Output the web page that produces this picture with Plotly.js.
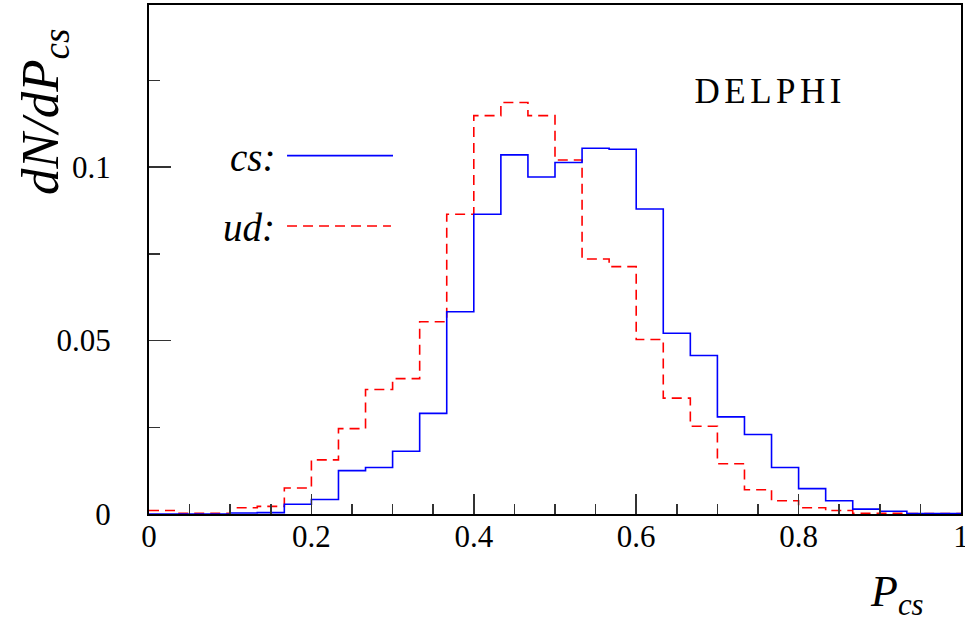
<!DOCTYPE html>
<html>
<head>
<meta charset="utf-8">
<script src="https://cdn.plot.ly/plotly-3.0.1.min.js"></script>
<style>
  html, body { margin: 0; padding: 0; background: #ffffff; }
  #chart { width: 965px; height: 631px; }
  g.annotation[data-index="0"] text { letter-spacing: 4.5px; }
</style>
</head>
<body>
<div id="chart"></div>
<script>
// Histogram: 30 bins between 0 and 1
const binStart = 0;
const binEnd = 1;
const nBins = 30;

// cs events (blue, solid)
const csValues = [0, 0, 0, 0.0003, 0.0004, 0.0028, 0.0042, 0.0125, 0.0134, 0.0181,
                  0.0290, 0.0583, 0.0864, 0.1035, 0.0971, 0.1013, 0.1054, 0.1051, 0.0879, 0.0521,
                  0.0457, 0.0280, 0.0229, 0.0134, 0.0073, 0.0038, 0.0014, 0.0008, 0.0001, 0.0001];

// ud events (red, dashed)
const udValues = [0.0010, 0.0002, 0.0002, 0.0018, 0.0022, 0.0075, 0.0156, 0.0246, 0.0359, 0.0390,
                  0.0554, 0.0864, 0.1148, 0.1186, 0.1148, 0.1020, 0.0735, 0.0713, 0.0503, 0.0334,
                  0.0253, 0.0145, 0.0070, 0.0038, 0.0018, 0.0010, 0.0002, 0.0002, 0.0001, 0.0001];

const seriesNames = ["cs:", "ud:"];
const xTickVals = [0, 0.2, 0.4, 0.6, 0.8, 1];
const xTickText = ["0", "0.2", "0.4", "0.6", "0.8", "1"];
const yTickVals = [0, 0.05, 0.1];
const yTickText = ["0", "0.05", "0.1"];

function stepTrace(values, color, dash, name) {
  const w = (binEnd - binStart) / nBins;
  const xs = [], ys = [];
  for (let i = 0; i < values.length; i++) { xs.push(binStart + i * w); ys.push(values[i]); }
  xs.push(binEnd); ys.push(values[values.length - 1]);
  return {
    type: 'scatter', mode: 'lines', x: xs, y: ys, name: name,
    line: { shape: 'hv', color: color, width: 1.6, dash: dash },
    hoverinfo: 'skip', showlegend: false
  };
}

const font = "Liberation Serif";

const data = [
  stepTrace(udValues, '#ff0000', '10px,6px', seriesNames[1]),
  stepTrace(csValues, '#0000ff', 'solid', seriesNames[0])
];

const layout = {
  width: 965, height: 631,
  margin: { l: 149, r: 4, t: 5, b: 117 },
  paper_bgcolor: '#ffffff', plot_bgcolor: '#ffffff',
  font: { family: font, color: '#000000' },
  showlegend: false,
  xaxis: {
    range: [0, 1], showgrid: false, zeroline: false,
    showline: true, mirror: true, linecolor: '#000000', linewidth: 2,
    ticks: 'inside', ticklen: 20, tickwidth: 1.5, tickcolor: '#333333',
    tickvals: xTickVals, ticktext: xTickText,
    minor: { dtick: 0.05, tick0: 0, ticks: 'inside', ticklen: 10, tickwidth: 1.5, tickcolor: '#333333', showgrid: false },
    tickfont: { family: font, size: 31, color: '#000000' },
    ticklabelstandoff: -6,
    ticklabeloverflow: 'allow'
  },
  yaxis: {
    range: [0, 0.14669], showgrid: false, zeroline: false,
    showline: true, mirror: true, linecolor: '#000000', linewidth: 2,
    ticks: 'inside', ticklen: 22, tickwidth: 1.5, tickcolor: '#333333',
    tickvals: yTickVals, ticktext: yTickText,
    minor: { dtick: 0.025, tick0: 0, ticks: 'inside', ticklen: 11, tickwidth: 1.5, tickcolor: '#333333', showgrid: false },
    tickfont: { family: font, size: 31, color: '#000000' },
    ticklabelstandoff: 30
  },
  shapes: [
    { type: 'line', xref: 'paper', yref: 'paper', x0: 0.170, x1: 0.3005, y0: 0.704, y1: 0.704,
      line: { color: '#0000ff', width: 1.6 } },
    { type: 'line', xref: 'paper', yref: 'paper', x0: 0.170, x1: 0.2980, y0: 0.5658, y1: 0.5658,
      line: { color: '#ff0000', width: 1.6, dash: '10px,6px' } }
  ],
  annotations: [
    { xref: 'paper', yref: 'paper', x: 0.765, y: 0.83, xanchor: 'center', yanchor: 'middle',
      text: 'DELPHI', showarrow: false, font: { family: font, size: 35, color: '#000000' } },
    { xref: 'paper', yref: 'paper', x: 0.158, y: 0.70, xanchor: 'right', yanchor: 'middle',
      text: '<i>' + seriesNames[0] + '</i>', showarrow: false, font: { family: font, size: 39, color: '#000000' } },
    { xref: 'paper', yref: 'paper', x: 0.158, y: 0.562, xanchor: 'right', yanchor: 'middle',
      text: '<i>' + seriesNames[1] + '</i>', showarrow: false, font: { family: font, size: 39, color: '#000000' } },
    { xref: 'paper', yref: 'paper', x: -0.1293, y: 0.79, xanchor: 'center', yanchor: 'middle', textangle: -90,
      text: '<i>dN/dP</i><sub><i>cs</i></sub>', showarrow: false, font: { family: font, size: 53, color: '#000000' } },
    { xref: 'paper', yref: 'paper', x: 0.921, y: -0.158, xanchor: 'center', yanchor: 'middle',
      text: '<i>P</i><sub><i>cs</i></sub>', showarrow: false, font: { family: font, size: 44, color: '#000000' } }
  ]
};

Plotly.newPlot('chart', data, layout, { staticPlot: true, displayModeBar: false });
</script>
</body>
</html>
